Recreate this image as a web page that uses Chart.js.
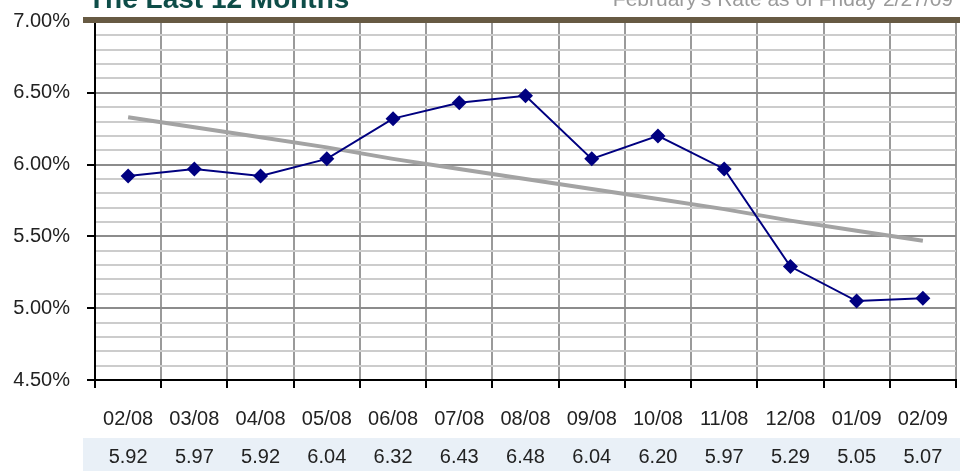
<!DOCTYPE html>
<html>
<head>
<meta charset="utf-8">
<script src="https://cdn.jsdelivr.net/npm/chart.js@4/dist/chart.umd.min.js"></script>
<style>
  html, body { margin: 0; padding: 0; background: #fff; }
  #wrap { width: 967px; height: 471px; }
</style>
</head>
<body>
<div id="wrap"><canvas id="chart" width="967" height="471"></canvas></div>
<script>
const categories = ['02/08', '03/08', '04/08', '05/08', '06/08', '07/08', '08/08', '09/08', '10/08', '11/08', '12/08', '01/09', '02/09'];
const rates = [5.92, 5.97, 5.92, 6.04, 6.32, 6.43, 6.48, 6.04, 6.20, 5.97, 5.29, 5.05, 5.07];
// gray trend line
const trend = [6.33, 6.26, 6.19, 6.12, 6.04, 5.97, 5.90, 5.83, 5.76, 5.69, 5.61, 5.54, 5.47];
const rateLabels = ['5.92', '5.97', '5.92', '6.04', '6.32', '6.43', '6.48', '6.04', '6.20', '5.97', '5.29', '5.05', '5.07'];

const title = 'The Last 12 Months';
const subtitle = "February's Rate as of Friday 2/27/09";

const labelFont = '"Liberation Sans", Arial, sans-serif';
const isMajor = v => Math.abs(v * 2 - Math.round(v * 2)) < 1e-6;

const decorations = {
  id: 'decorations',
  beforeDraw(chart) {
    const ctx = chart.ctx;
    ctx.save();
    ctx.fillStyle = '#fff';
    ctx.fillRect(0, 0, chart.width, chart.height);
    // table row background
    ctx.fillStyle = '#e9f0f7';
    ctx.fillRect(83, 438, 877, 33);
    ctx.restore();
  },
  afterDraw(chart) {
    const ctx = chart.ctx;
    const x = chart.scales.x;
    ctx.save();
    // brown rule under the heading
    ctx.fillStyle = '#675a43';
    ctx.fillRect(83, 17, 877, 6);
    ctx.font = 'bold 28px "Liberation Sans", Arial, sans-serif';
    ctx.fillStyle = '#0e4d48';
    ctx.textBaseline = 'alphabetic';
    ctx.textAlign = 'left';
    ctx.fillText(title, 88, 8);
    ctx.font = '21px "Liberation Sans", Arial, sans-serif';
    ctx.fillStyle = '#9a9a9a';
    ctx.textAlign = 'right';
    ctx.fillText(subtitle, 953, 6);
    // values row
    ctx.font = '20px ' + labelFont;
    ctx.fillStyle = '#222';
    ctx.textAlign = 'center';
    ctx.textBaseline = 'middle';
    rateLabels.forEach((t, i) => {
      ctx.fillText(t, x.getPixelForValue(i), 457);
    });
    ctx.restore();
  }
};

new Chart(document.getElementById('chart'), {
  type: 'line',
  data: {
    labels: categories,
    datasets: [
      {
        data: rates,
        borderColor: '#000080',
        backgroundColor: '#000080',
        borderWidth: 2,
        pointStyle: 'rectRot',
        pointRadius: 7.5,
        pointBorderWidth: 0,
        tension: 0
      },
      {
        data: trend,
        borderColor: '#a3a3a3',
        borderWidth: 4,
        pointRadius: 0,
        tension: 0
      }
    ]
  },
  options: {
    responsive: false,
    animation: false,
    devicePixelRatio: 1,
    layout: { padding: { top: 21, right: 11, left: 0, bottom: 0 } },
    plugins: {
      legend: { display: false },
      tooltip: { enabled: false }
    },
    scales: {
      x: {
        offset: true,
        afterFit: s => { s.height = 91; s.paddingLeft = 0; s.paddingRight = 0; },
        grid: {
          offset: true,
          color: '#9a9a9a',
          lineWidth: 2,
          tickColor: '#000',
          tickLength: 8,
          tickWidth: 2
        },
        border: { color: '#000', width: 2 },
        ticks: {
          color: '#222',
          font: { family: labelFont, size: 20 },
          padding: 19,
          maxRotation: 0,
          autoSkip: false
        }
      },
      y: {
        min: 4.5,
        max: 7.0,
        afterFit: s => { s.width = 95; s.paddingTop = 0; s.paddingBottom = 0; },
        grid: {
          color: c => isMajor(c.tick.value) ? '#8c8c8c' : '#cccccc',
          lineWidth: 2,
          tickColor: c => isMajor(c.tick.value) ? '#000' : 'rgba(0,0,0,0)',
          tickLength: 8,
          tickWidth: 2
        },
        border: { color: '#000', width: 2 },
        ticks: {
          stepSize: 0.1,
          autoSkip: false,
          color: '#222',
          font: { family: labelFont, size: 20 },
          padding: 17,
          callback: v => isMajor(v) ? v.toFixed(2) + '%' : ''
        }
      }
    }
  },
  plugins: [decorations]
});
</script>
</body>
</html>
